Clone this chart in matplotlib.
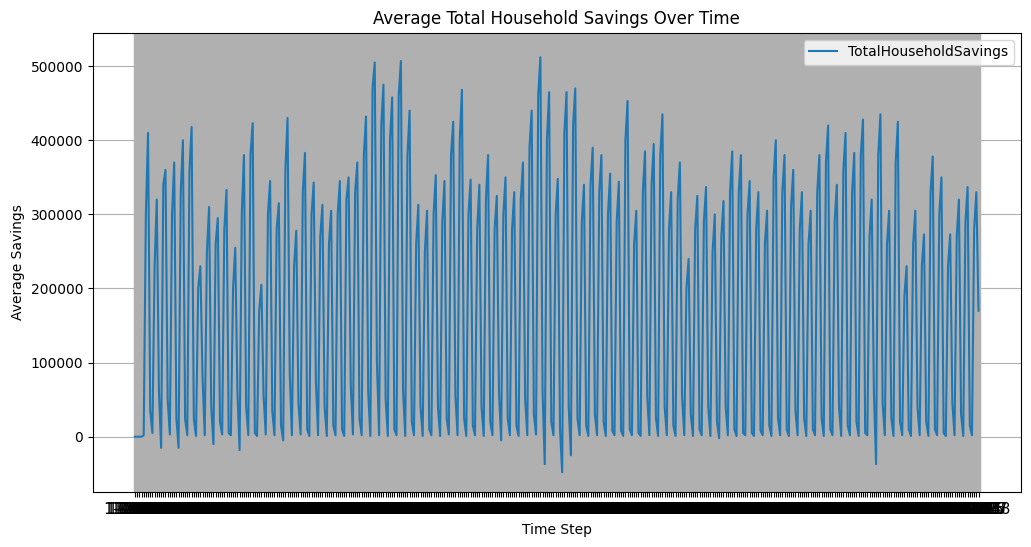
import matplotlib.pyplot as plt

# each cluster: (low, mid, peak, after)  values in thousands
clusters = [
    (0, 0, 0, 0), (2, 300, 410, 35), (5, 230, 320, 60), (-15, 340, 360, 50), (3, 300, 370, 25),
    (-15, 330, 400, 24), (2, 360, 418, 24), (1, 200, 230, 80), (2, 250, 310, 40), (-10, 260, 295, 20),
    (3, 280, 333, 5), (2, 200, 255, 60), (-18, 300, 380, 40), (2, 380, 423, 5), (1, 170, 205, 55),
    (3, 300, 345, 35), (2, 280, 315, 15), (-5, 360, 430, 85), (2, 230, 278, 45), (3, 330, 383, 10),
    (1, 300, 343, 75), (2, 270, 313, 40), (1, 260, 305, 15), (2, 300, 345, 10), (1, 320, 350, 70),
    (3, 330, 370, 25), (2, 380, 432, 60), (1, 470, 505, 100), (2, 420, 475, 50), (1, 400, 458, 10),
    (2, 460, 507, 60), (1, 380, 440, 20), (2, 260, 313, 40), (1, 250, 305, 10), (2, 300, 353, 40),
    (1, 290, 345, 25), (3, 380, 425, 55), (2, 400, 468, 25), (1, 300, 347, 15), (2, 280, 340, 40),
    (1, 320, 380, 20), (2, 280, 325, 60), (-5, 300, 350, 25), (2, 280, 330, 15), (1, 320, 370, 50),
    (2, 390, 440, 30), (3, 460, 512, 60), (-37, 400, 465, 20), (2, 300, 348, 10), (-48, 410, 465, 40),
    (-25, 420, 470, 25), (2, 290, 340, 15), (1, 340, 390, 30), (2, 330, 380, 20), (1, 300, 355, 8),
    (2, 290, 344, 8), (1, 400, 453, 10), (2, 260, 305, 5), (1, 330, 385, 55), (2, 340, 395, 25),
    (1, 380, 435, 40), (2, 280, 330, 15), (1, 320, 370, 55), (2, 200, 240, 30), (1, 280, 325, 10),
    (2, 290, 337, 40), (1, 250, 300, 20), (-2, 270, 318, 40), (2, 330, 385, 10), (1, 330, 380, 5),
    (2, 300, 345, 5), (1, 280, 330, 8), (2, 260, 305, 15), (1, 350, 400, 25), (2, 330, 380, 10),
    (1, 310, 360, 35), (2, 280, 330, 25), (1, 260, 305, 10), (2, 330, 380, 25), (1, 370, 420, 10),
    (2, 290, 340, 40), (1, 360, 410, 15), (2, 330, 383, 20), (1, 380, 428, 5), (2, 270, 320, 60),
    (-37, 380, 435, 45), (2, 260, 305, 25), (1, 370, 425, 20), (2, 190, 230, 10), (1, 260, 305, 40),
    (2, 230, 273, 20), (1, 330, 378, 10), (2, 300, 350, 5), (1, 230, 273, 45), (2, 270, 320, 30),
    (1, 290, 337, 15), (2, 280, 330, 170),
]

savings = []
for c in clusters:
    savings.extend(v * 1000 for v in c)
steps = ["1-%05d" % (i + 1) for i in range(len(savings))]

fig, ax = plt.subplots(figsize=(10.31, 5.47), dpi=100)
ax.plot(steps, savings, label="TotalHouseholdSavings")
ax.set_title("Average Total Household Savings Over Time")
ax.set_xlabel("Time Step")
ax.set_ylabel("Average Savings")
ax.set_ylim(-75000, 545000)
ax.xaxis.grid(True, linewidth=2.5)
ax.yaxis.grid(True)
ax.tick_params(axis="x", labelsize=11)
ax.legend(loc="upper right")
plt.subplots_adjust(left=0.09, right=0.99, top=0.94, bottom=0.1)
plt.savefig("out.png")
